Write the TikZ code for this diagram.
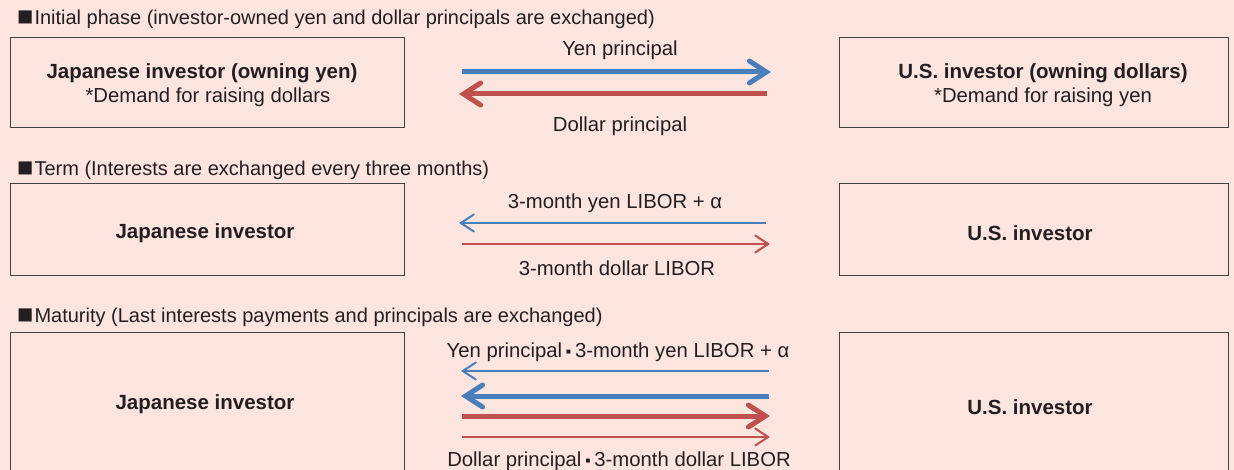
\documentclass[tikz,border=0pt]{standalone}
\usepackage{fontspec}
\setmainfont{Liberation Sans}
\usetikzlibrary{arrows.meta}
\definecolor{bg}{HTML}{FDE5DF}
\definecolor{ablue}{HTML}{4A7EBB}
\definecolor{ared}{HTML}{C0504D}
\definecolor{txt}{HTML}{231F20}
\tikzset{
  party/.style={draw=txt!85, line width=1pt, fill=bg, text=txt, align=center, inner sep=0pt},
  hdr/.style={anchor=west, text=txt, font=\fontsize{20}{23}\selectfont, inner sep=0pt},
  lbl/.style={text=txt, font=\fontsize{20.3}{23}\selectfont, inner sep=0pt},
  bl/.style={text=txt, font=\fontsize{20.5}{23}\selectfont\bfseries, inner sep=0pt},
  thickarr/.style={line width=5pt, -{Straight Barb[length=17pt, width=22pt, line cap=round, line width=5pt]}},
  thinarr/.style={line width=2pt, -{Straight Barb[length=13pt, width=17pt, line cap=round, line width=2pt]}},
}
\newcommand{\sqbig}{\raisebox{-0.1ex}{\scalebox{1.35}{■}}\kern1pt}
\newcommand{\sqdot}{\hspace{4pt}\raisebox{0.3ex}{\scalebox{0.4}{■}}\hspace{4pt}}
\begin{document}
\begin{tikzpicture}[x=1pt, y=-1pt]
\fill[bg] (0,0) rectangle (1234,470);
\useasboundingbox (0,0) rectangle (1234,470);
% headers
\node[hdr] (h1) at (17,19) {\sqbig Initial phase (investor-owned yen and dollar principals are exchanged)};
\node[hdr] (h2) at (17,170) {\sqbig Term (Interests are exchanged every three months)};
\node[hdr] (h3) at (17,317) {\sqbig Maturity (Last interests payments and principals are exchanged)};
% row 1
\node[party, minimum width=394pt, minimum height=90pt] (j1) at (207,82.5) {};
\node[bl] (j1a) at (202,73) {Japanese investor (owning yen)};
\node[lbl] (j1b) at (208,97) {*Demand for raising dollars};
\node[party, minimum width=389pt, minimum height=90pt] (u1) at (1033.5,82.5) {};
\node[bl] (u1a) at (1043,73) {U.S. investor (owning dollars)};
\node[lbl] (u1b) at (1043,97) {*Demand for raising yen};
\coordinate (a1s) at (462,72); \coordinate (a1e) at (771,72);
\coordinate (b1s) at (767,94); \coordinate (b1e) at (459,94);
\draw[thickarr, ablue] (a1s) -- (a1e);
\draw[thickarr, ared] (b1s) -- (b1e);
\node[lbl] (l1a) at (620,50) {Yen principal};
\node[lbl] (l1b) at (620,126) {Dollar principal};
% row 2
\node[party, minimum width=394pt, minimum height=92pt] (j2) at (207,230) {};
\node[bl] (j2a) at (205,233) {Japanese investor};
\node[party, minimum width=389pt, minimum height=92pt] (u2) at (1033.5,230) {};
\node[bl] (u2a) at (1030,233) {U.S. investor};
\coordinate (a2s) at (766,223); \coordinate (a2e) at (459,223);
\coordinate (b2s) at (462,244); \coordinate (b2e) at (770,244);
\draw[thinarr, ablue] (a2s) -- (a2e);
\draw[thinarr, ared] (b2s) -- (b2e);
\node[lbl] (l2a) at (615,203) {3-month yen LIBOR + α};
\node[lbl] (l2b) at (617,268) {3-month dollar LIBOR};
% row 3
\node[party, minimum width=394pt, minimum height=140pt] (j3) at (207,402) {};
\node[bl] (j3a) at (205,404) {Japanese investor};
\node[party, minimum width=389pt, minimum height=140pt] (u3) at (1033.5,402) {};
\node[bl] (u3a) at (1030,407) {U.S. investor};
\coordinate (a3s) at (769,371); \coordinate (a3e) at (461,371);
\coordinate (c3s) at (769,396); \coordinate (c3e) at (461,396);
\coordinate (d3s) at (462,416); \coordinate (d3e) at (770,416);
\coordinate (b3s) at (462,437); \coordinate (b3e) at (770,437);
\draw[thinarr, ablue] (a3s) -- (a3e);
\draw[thickarr, ablue] (c3s) -- (c3e);
\draw[thickarr, ared] (d3s) -- (d3e);
\draw[thinarr, ared] (b3s) -- (b3e);
\node[lbl] (l3a) at (618,352) {Yen principal\sqdot 3-month yen LIBOR + α};
\node[lbl] (l3b) at (619,461) {Dollar principal\sqdot 3-month dollar LIBOR};
\end{tikzpicture}
\end{document}
